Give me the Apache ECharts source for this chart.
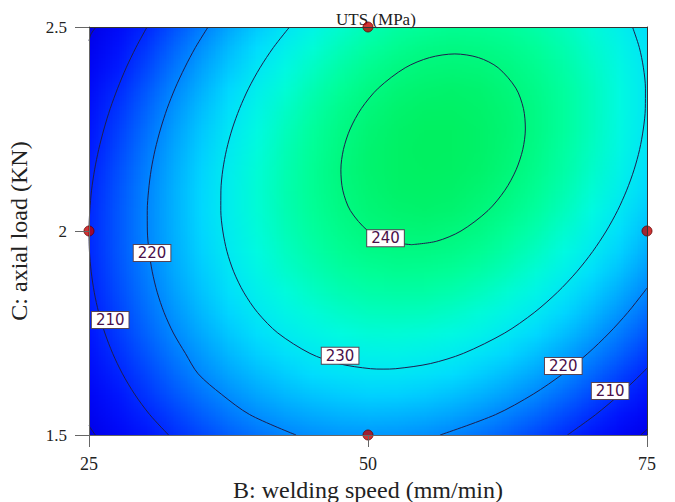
<!DOCTYPE html>
<html><head><meta charset="utf-8">
<script src="https://cdn.jsdelivr.net/npm/echarts@6/dist/echarts.min.js"></script>
<style>html,body{margin:0;padding:0;background:#fff}#c{width:675px;height:502px}</style>
</head><body><div id="c"></div>
<script>
// B: welding speed (mm/min) grid columns
const speedB = [25,27.5,30,32.5,35,37.5,40,42.5,45,47.5,50,52.5,55,57.5,60,62.5,65,67.5,70,72.5,75];
// C: axial load (KN) grid rows
const loadC = [1.5,1.55,1.6,1.65,1.7,1.75,1.8,1.85,1.9,1.95,2,2.05,2.1,2.15,2.2,2.25,2.3,2.35,2.4,2.45,2.5];
// UTS (MPa) estimated on the grid, one row per loadC value
const uts = [
[199.0,203.3,207.1,210.5,213.4,215.9,217.9,219.5,220.6,221.3,221.5,221.3,220.6,219.5,217.9,215.9,213.4,210.5,207.1,203.3,199.0],
[201.1,205.5,209.4,212.8,215.8,218.4,220.5,222.1,223.3,224.1,224.4,224.2,223.6,222.6,221.1,219.1,216.7,213.9,210.6,206.8,202.6],
[203.0,207.4,211.4,214.9,218.0,220.6,222.8,224.5,225.8,226.6,227.0,226.9,226.4,225.4,224.0,222.1,219.8,217.0,213.8,210.1,206.0],
[204.7,209.2,213.2,216.8,220.0,222.7,224.9,226.7,228.1,229.0,229.4,229.4,229.0,228.1,226.7,224.9,222.7,220.0,216.8,213.2,209.2],
[206.1,210.7,214.8,218.5,221.7,224.5,226.8,228.7,230.1,231.1,231.6,231.7,231.3,230.5,229.2,227.5,225.3,222.7,219.6,216.1,212.1],
[207.3,212.0,216.2,219.9,223.2,226.1,228.5,230.4,231.9,233.0,233.6,233.7,233.4,232.7,231.5,229.8,227.7,225.2,222.2,218.7,214.8],
[208.3,213.0,217.3,221.1,224.5,227.4,229.9,231.9,233.5,234.6,235.3,235.5,235.3,234.6,233.5,231.9,229.9,227.4,224.5,221.1,217.3],
[209.1,213.9,218.2,222.1,225.6,228.6,231.1,233.2,234.9,236.1,236.8,237.1,237.0,236.4,235.3,233.8,231.9,229.5,226.6,223.3,219.6],
[209.6,214.5,218.9,222.9,226.4,229.5,232.1,234.3,236.0,237.3,238.1,238.5,238.4,237.9,236.9,235.5,233.6,231.3,228.5,225.3,221.6],
[209.9,214.9,219.4,223.4,227.0,230.2,232.9,235.1,236.9,238.3,239.2,239.6,239.6,239.2,238.3,236.9,235.1,232.9,230.2,227.0,223.4],
[210.0,215.0,219.6,223.7,227.4,230.6,233.4,235.7,237.6,239.0,240.0,240.5,240.6,240.2,239.4,238.1,236.4,234.2,231.6,228.5,225.0],
[209.9,215.0,219.6,223.8,227.6,230.9,233.7,236.1,238.1,239.6,240.6,241.2,241.4,241.1,240.3,239.1,237.5,235.4,232.8,229.8,226.4],
[209.5,214.7,219.4,223.7,227.5,230.9,233.8,236.3,238.3,239.9,241.0,241.7,241.9,241.7,241.0,239.9,238.3,236.3,233.8,230.9,227.5],
[208.9,214.2,219.0,223.3,227.2,230.7,233.7,236.2,238.3,240.0,241.2,241.9,242.2,242.1,241.5,240.4,238.9,237.0,234.6,231.7,228.4],
[208.1,213.4,218.3,222.7,226.7,230.2,233.3,235.9,238.1,239.8,241.1,241.9,242.3,242.2,241.7,240.7,239.3,237.4,235.1,232.3,229.1],
[207.1,212.5,217.4,221.9,226.0,229.6,232.7,235.4,237.7,239.5,240.8,241.7,242.2,242.2,241.7,240.8,239.5,237.7,235.4,232.7,229.6],
[205.8,211.3,216.3,220.9,225.0,228.7,231.9,234.7,237.0,238.9,240.3,241.3,241.8,241.9,241.5,240.7,239.4,237.7,235.5,232.9,229.8],
[204.3,209.9,215.0,219.6,223.8,227.6,230.9,233.7,236.1,238.1,239.6,240.6,241.2,241.4,241.1,240.3,239.1,237.5,235.4,232.8,229.8],
[202.6,208.2,213.4,218.1,222.4,226.2,229.6,232.5,235.0,237.0,238.6,239.7,240.4,240.6,240.4,239.7,238.6,237.0,235.0,232.5,229.6],
[200.7,206.4,211.6,216.4,220.8,224.7,228.1,231.1,233.7,235.8,237.4,238.6,239.4,239.7,239.5,238.9,237.9,236.4,234.4,232.0,229.2],
[198.5,204.3,209.6,214.5,218.9,222.9,226.4,229.5,232.1,234.3,236.0,237.3,238.1,238.5,238.4,237.9,236.9,235.5,233.6,231.3,228.5]
];
// contour lines [B, C]
const contour240 = [[53.9,1.9665],[56.15,1.975],[58.33,2.0],[60.75,2.05],[62.27,2.10],[63.27,2.15],[63.87,2.20],[64.10,2.25],[63.93,2.30],[63.25,2.35],[61.67,2.40],[59.90,2.425],[57.78,2.434],[55.52,2.425],[53.33,2.40],[50.92,2.35],[49.40,2.30],[48.40,2.25],[47.80,2.20],[47.57,2.15],[47.74,2.10],[48.42,2.05],[50.0,2.0],[51.78,1.975],[53.9,1.9665]];
const contour230 = [[42.97,2.5],[41.53,2.45],[40.32,2.40],[39.31,2.35],[38.49,2.30],[37.83,2.25],[37.33,2.20],[36.99,2.15],[36.82,2.10],[36.81,2.05],[36.99,2.00],[37.36,1.95],[37.97,1.90],[38.86,1.85],[40.11,1.80],[41.92,1.75],[44.80,1.70],[47.34,1.675],[50.22,1.6625],[51.35,1.6615],[52.49,1.6625],[55.58,1.675],[58.54,1.70],[62.25,1.75],[64.89,1.80],[66.98,1.85],[68.70,1.90],[70.14,1.95],[71.35,2.00],[72.36,2.05],[73.18,2.10],[73.84,2.15],[74.34,2.20],[74.67,2.25],[74.85,2.30],[74.86,2.35],[74.68,2.40],[74.31,2.45],[73.70,2.50]];
const contour220a = [[35.67,2.5],[34.54,2.45],[33.57,2.40],[32.72,2.35],[32.00,2.30],[31.41,2.25],[30.93,2.20],[30.57,2.15],[30.34,2.10],[30.22,2.05],[30.23,2.00],[30.38,1.95],[30.67,1.90],[31.11,1.85],[31.73,1.80],[32.56,1.75],[33.64,1.70],[34.78,1.65],[36.86,1.60],[39.40,1.55],[43.55,1.50]];
const contour220b = [[56.46,1.50],[61.43,1.55],[64.80,1.60],[67.47,1.65],[69.70,1.70],[71.61,1.75],[73.27,1.80],[74.72,1.85],[75,1.8603]];
const contour210a = [[30.20,2.5],[29.21,2.45],[28.33,2.40],[27.57,2.35],[26.90,2.30],[26.34,2.25],[25.87,2.20],[25.50,2.15],[25.23,2.10],[25.07,2.05],[25.00,2.00],[25.04,1.95],[25.20,1.90],[25.47,1.85],[25.87,1.80],[26.42,1.75],[27.12,1.70],[28.00,1.65],[29.09,1.60],[30.44,1.55],[32.13,1.50]];
const contour210b = [[67.87,1.50],[70.40,1.55],[72.58,1.60],[74.51,1.65],[75,1.6639]];
const contour200a = [[25,2.4659],[25.175,2.4825],[25.63,2.5]];
const contour200b = [[25,1.523],[25.27,1.5115],[25.56,1.5]];
const contour200c = [[74.44,1.5],[74.73,1.507],[75,1.5135]];
// contour labels [B, C, text]
const contourLabels = [[51.57,1.982,'240'],[47.5,1.694,'230'],[30.65,1.946,'220'],[26.9,1.782,'210'],[67.5,1.669,'220'],[71.7,1.608,'210']];
// design points
const designPoints = [[50,2.5],[25,2],[75,2],[50,1.5]];

// colour scale (blue -> cyan -> green)
const scaleMin = 198, scaleMax = 243;
const palette = ['#0000e6','#0006f6','#0018ff','#0042ff','#0074ff','#00a8ff','#00dcff','#00fbe0','#00ff98','#00ee58'];

function hexRgb(h){ return [parseInt(h.slice(1,3),16), parseInt(h.slice(3,5),16), parseInt(h.slice(5,7),16)]; }
const palRgb = palette.map(hexRgb);
function colourOf(v){
  const t = Math.max(0, Math.min(1, (v - scaleMin) / (scaleMax - scaleMin)));
  const pos = t * (palRgb.length - 1);
  const i = Math.min(Math.floor(pos), palRgb.length - 2);
  const f = pos - i;
  return palRgb[i].map((c, k) => Math.round(c + (palRgb[i+1][k] - c) * f));
}
// one pixel per grid node; the browser's image smoothing blends neighbouring cells
const nCols = speedB.length, nRows = loadC.length;
const cv = document.createElement('canvas'); cv.width = nCols; cv.height = nRows;
const cx = cv.getContext('2d'); const im = cx.createImageData(nCols, nRows);
for (let j = 0; j < nRows; j++) for (let i = 0; i < nCols; i++) {
  const rgb = colourOf(uts[j][i]); const o = ((nRows - 1 - j) * nCols + i) * 4;
  im.data[o] = rgb[0]; im.data[o+1] = rgb[1]; im.data[o+2] = rgb[2]; im.data[o+3] = 255;
}
cx.putImageData(im, 0, 0);
const surfaceURL = cv.toDataURL();
const stepB = speedB[1] - speedB[0], stepC = loadC[1] - loadC[0];

const serif = 'Liberation Serif';
const lineColor = '#1e1e4e';
function contourSeries(d){
  return {type:'line', data:d, symbol:'none', smooth:0.3, clip:true, silent:true, z:3,
    lineStyle:{color:lineColor, width:1}};
}
const chart = echarts.init(document.getElementById('c'), null, {renderer:'svg'});
chart.setOption({
  animation:false,
  backgroundColor:'#fff',
  title:{text:'UTS (MPa)', left:331, top:6, textStyle:{fontFamily:serif, fontSize:17, fontWeight:'normal', color:'#222'}},
  grid:{left:89, top:27, width:558, height:408, outerBoundsMode:'none', containLabel:false},
  xAxis:[
    {type:'value', min:25, max:75, interval:25, position:'bottom', z:10,
     axisLine:{show:true, lineStyle:{color:'#666'}}, axisTick:{show:true, length:12, lineStyle:{color:'#666'}},
     axisLabel:{fontFamily:serif, fontSize:18, color:'#222', margin:20}, splitLine:{show:false},
     name:'B: welding speed (mm/min)', nameLocation:'middle', nameGap:42,
     nameTextStyle:{fontFamily:serif, fontSize:24, color:'#222'}},
    {type:'value', min:25, max:75, position:'top', z:10,
     axisLine:{show:true, lineStyle:{color:'#333'}}, axisTick:{show:false}, axisLabel:{show:false}, splitLine:{show:false}}
  ],
  yAxis:[
    {type:'value', min:1.5, max:2.5, interval:0.5, position:'left', z:10,
     axisLine:{show:true, lineStyle:{color:'#666'}}, axisTick:{show:true, length:14, lineStyle:{color:'#666'}},
     axisLabel:{fontFamily:serif, fontSize:17, color:'#222', margin:22}, splitLine:{show:false},
     name:'C: axial load (KN)', nameLocation:'middle', nameGap:58, nameRotate:90,
     nameTextStyle:{fontFamily:serif, fontSize:24, color:'#222'}},
    {type:'value', min:1.5, max:2.5, position:'right', z:10,
     axisLine:{show:true, lineStyle:{color:'#333'}}, axisTick:{show:false}, axisLabel:{show:false}, splitLine:{show:false}}
  ],
  series:[
    {type:'custom', data:[[speedB[0], loadC[0]]], clip:true, silent:true, z:1, encode:{x:0, y:1},
     renderItem:function(params, api){
       const p0 = api.coord([speedB[0] - stepB/2, loadC[nRows-1] + stepC/2]);
       const p1 = api.coord([speedB[nCols-1] + stepB/2, loadC[0] - stepC/2]);
       return {type:'image', x:p0[0], y:p0[1], scaleX:(p1[0]-p0[0])/nCols, scaleY:(p1[1]-p0[1])/nRows,
               style:{image:surfaceURL, x:0, y:0, width:nCols, height:nRows}};
     }},
    contourSeries(contour240), contourSeries(contour230), contourSeries(contour220a), contourSeries(contour220b),
    contourSeries(contour210a), contourSeries(contour210b), contourSeries(contour200a), contourSeries(contour200b), contourSeries(contour200c),
    {type:'custom', data:contourLabels.map(d => [d[0], d[1]]), silent:true, z:5, encode:{x:0, y:1},
     renderItem:function(params, api){
       const p = api.coord([api.value(0), api.value(1)]);
       return {type:'text', x:p[0], y:p[1], z2:10,
               style:{text:contourLabels[params.dataIndex][2], fill:'#4a0f4a', font:'15px "DejaVu Sans"',
                      align:'center', verticalAlign:'middle', backgroundColor:'#ffffff',
                      borderColor:'#554455', borderWidth:1, padding:[1,4,0,4]}};
     }},
    {type:'scatter', data:designPoints, symbolSize:10, clip:false, silent:true, z:6,
     itemStyle:{color:'#c40000', borderColor:'#600000', borderWidth:1}}
  ]
});
</script></body></html>
